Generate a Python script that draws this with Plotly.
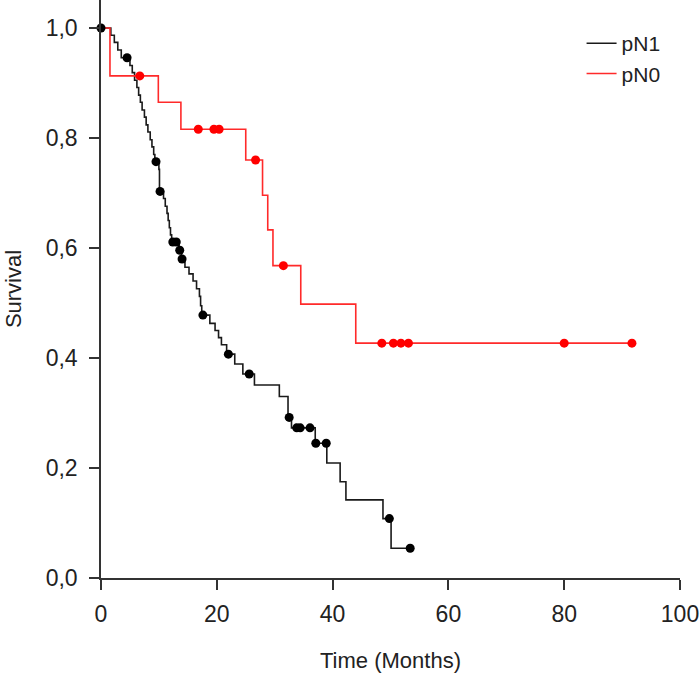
import plotly.graph_objects as go
import bisect

# ---- data (Kaplan-Meier step curves) ----
pn1_time = [0, 1.7, 2.3, 2.9, 3.5, 5.0, 5.4, 5.8, 6.2, 6.5, 6.8, 7.1, 7.5, 7.8, 8.1,
            8.5, 8.8, 9.1, 9.3, 10.0, 10.1, 10.8, 11.1, 11.4, 11.6, 11.8, 12.0, 12.2,
            13.5, 13.9, 14.5, 15.2, 15.9, 16.5, 17.0, 17.2, 17.4, 18.8, 19.7, 20.3,
            20.8, 21.7, 23.1, 24.5, 26.5, 30.8, 32.3, 32.9, 37.0, 39.0, 41.3, 42.3,
            48.7, 50.1, 53.4]
pn1_surv = [1.0, 0.987, 0.974, 0.960, 0.946, 0.932, 0.919, 0.905, 0.892, 0.878, 0.865,
            0.851, 0.838, 0.824, 0.811, 0.797, 0.784, 0.770, 0.757, 0.743, 0.703, 0.690,
            0.676, 0.663, 0.650, 0.637, 0.624, 0.611, 0.596, 0.580, 0.565, 0.553, 0.540,
            0.526, 0.512, 0.495, 0.478, 0.463, 0.450, 0.437, 0.424, 0.407, 0.389, 0.371,
            0.351, 0.330, 0.292, 0.273, 0.245, 0.209, 0.175, 0.142, 0.108, 0.054, 0.054]
pn1_censor = [0, 4.5, 9.5, 10.2, 12.4, 13.0, 13.6, 14.0, 17.6, 22.0, 25.6, 32.5,
              33.8, 34.4, 36.1, 37.1, 38.9, 49.8, 53.4]

pn0_time = [0, 1.55, 9.9, 13.8, 25.0, 27.9, 28.8, 29.7, 34.5, 44.0, 91.7]
pn0_surv = [1.0, 0.913, 0.865, 0.816, 0.760, 0.696, 0.633, 0.568, 0.498, 0.427, 0.427]
pn0_censor = [6.7, 16.8, 19.5, 20.4, 26.7, 31.5, 48.5, 50.5, 51.8, 53.1, 80.0, 91.7]

x_ticks = [0, 20, 40, 60, 80, 100]
y_ticks = [0.0, 0.2, 0.4, 0.6, 0.8, 1.0]


def surv_at(times, surv, t):
    i = bisect.bisect_right(times, t) - 1
    return surv[max(i, 0)]


BLACK = "#1a1a1a"
RED = "#ff2a2a"
TXT = "#222222"

fig = go.Figure()
fig.add_trace(go.Scatter(x=pn1_time, y=pn1_surv, mode="lines", line_shape="hv",
                         line=dict(color=BLACK, width=1.6), name="pN1"))
fig.add_trace(go.Scatter(x=pn0_time, y=pn0_surv, mode="lines", line_shape="hv",
                         line=dict(color=RED, width=1.6), name="pN0"))
fig.add_trace(go.Scatter(x=pn1_censor, y=[surv_at(pn1_time, pn1_surv, t) for t in pn1_censor],
                         mode="markers", marker=dict(color="#000000", size=9),
                         showlegend=False, cliponaxis=False))
fig.add_trace(go.Scatter(x=pn0_censor, y=[surv_at(pn0_time, pn0_surv, t) for t in pn0_censor],
                         mode="markers", marker=dict(color="#ff0000", size=9),
                         showlegend=False, cliponaxis=False))

axis_common = dict(showline=True, linecolor="#333333", linewidth=1.5, ticks="outside",
                   ticklen=10, tickwidth=1.5, tickcolor="#333333", showgrid=False,
                   zeroline=False, tickfont=dict(size=23, color=TXT),
                   title_font=dict(size=22, color=TXT), automargin=False)

fig.update_layout(
    width=700, height=673,
    paper_bgcolor="white", plot_bgcolor="white",
    font=dict(family="Liberation Sans, Arial, sans-serif"),
    separators=", ",
    margin=dict(l=101, r=20, t=0, b=95),
    showlegend=True,
    legend=dict(x=0.83, y=0.96, xanchor="left", yanchor="top",
                font=dict(size=21, color=TXT), bgcolor="rgba(0,0,0,0)"),
    xaxis=dict(range=[0, 100], tickvals=x_ticks, title_text="Time (Months)",
               title_standoff=26, ticklabelstandoff=5, **axis_common),
    yaxis=dict(range=[0, 1.051], tickvals=y_ticks, tickformat=".1f",
               title_text="Survival", title_standoff=18, ticklabelstandoff=7, **axis_common),
)

fig.write_html("out.html", config={"displayModeBar": False},
               post_script="document.body.style.margin='0';document.body.style.padding='0';")
